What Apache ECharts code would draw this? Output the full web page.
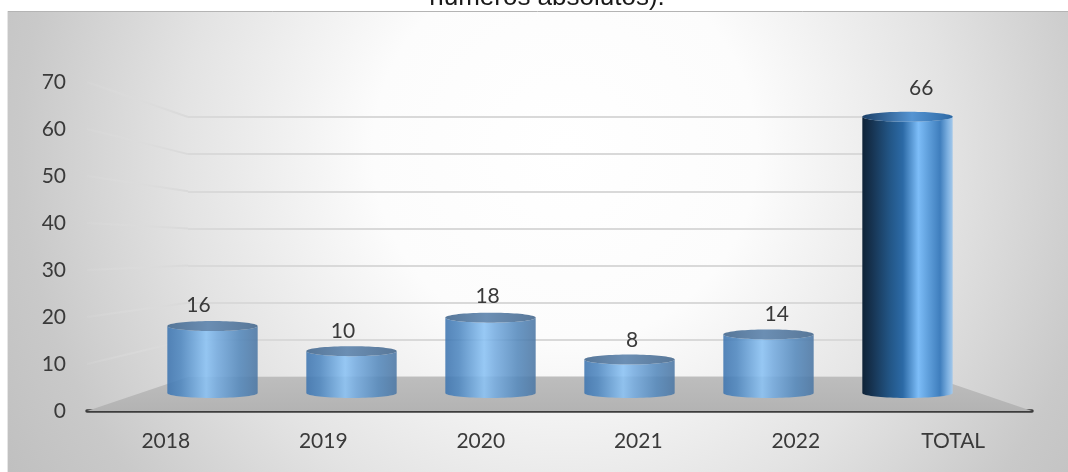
<!DOCTYPE html>
<html>
<head>
<meta charset="utf-8">
<script src="https://cdn.jsdelivr.net/npm/echarts@6/dist/echarts.min.js"></script>
<style>html,body{margin:0;padding:0;background:#fff;}#c{width:1068px;height:472px;}</style>
</head>
<body>
<div id="c"></div>
<script>
// ---- data ----
const categories = ['2018', '2019', '2020', '2021', '2022', 'TOTAL'];
const values = [16, 10, 18, 8, 14, 66];
const yMin = 0, yMax = 70, yStep = 10;
const titleText = 'números absolutos).';

// ---- layout constants ----
const FONT = 'Lato, "Open Sans", "Liberation Sans", sans-serif';
const LABEL_LIFT = 5.5;   // value units above the cylinder top
const LABEL_DEPTH = 0.3;  // between mid plane (0) and front plane (1)

const chart = echarts.init(document.getElementById('c'), null, {renderer: 'canvas'});

const valueAxis = (g, extra) => Object.assign({
  gridIndex: g, type: 'value', min: yMin, max: yMax, interval: yStep
}, extra);

chart.setOption({
  backgroundColor: '#ffffff',
  animation: false,
  grid: [
    {left: 87, right: 36, top: 82, bottom: 61},   // front plane
    {left: 188, right: 136, top: 117, bottom: 95}, // back wall
    {left: 143, right: 91, top: 100, bottom: 79}   // cylinder plane
  ],
  xAxis: [
    {gridIndex: 0, type: 'category', data: categories,
     axisLine: {lineStyle: {color: '#3d3d3d', width: 3.5, cap: 'round'}},
     axisTick: {show: false},
     axisLabel: {interval: 0, color: '#3a3a3a', fontSize: 21, fontFamily: FONT, margin: 20}},
    {gridIndex: 1, type: 'category', data: categories, show: false},
    {gridIndex: 2, type: 'category', data: categories, show: false}
  ],
  yAxis: [
    valueAxis(0, {axisLine: {show: false}, axisTick: {show: false}, splitLine: {show: false},
      axisLabel: {color: '#3a3a3a', fontSize: 21, fontFamily: FONT, margin: 21}}),
    valueAxis(1, {axisLine: {show: false}, axisTick: {show: false}, axisLabel: {show: false},
      splitLine: {show: true, lineStyle: {color: '#d9d9d9', width: 2}}}),
    valueAxis(2, {show: false})
  ]
});

const px = (g, cat, v) => chart.convertToPixel({gridIndex: g}, [cat, v]);
const edges = (g) => {
  const c0 = px(g, categories[0], 0)[0];
  const c1 = px(g, categories[1], 0)[0];
  const cN = px(g, categories[categories.length - 1], 0)[0];
  const band = c1 - c0;
  return [c0 - band / 2, cN + band / 2];
};
const [L0, R0] = edges(0);
const [L1, R1] = edges(1);

const graphics = [];
graphics.push({
  type: 'rect', z: -10, silent: true,
  shape: {x: 7, y: 11, width: 1061, height: 461},
  style: {fill: new echarts.graphic.RadialGradient(565, 150, 640, [
    {offset: 0, color: '#ffffff'},
    {offset: 0.3, color: '#fcfcfc'},
    {offset: 0.6, color: '#e3e3e3'},
    {offset: 0.85, color: '#c9c9c9'},
    {offset: 1, color: '#c0c0c0'}
  ], true)}
});
graphics.push({type: 'line', z: -5, shape: {x1: 7, y1: 11.5, x2: 1068, y2: 11.5}, style: {stroke: '#b4b4b4', lineWidth: 1}});
graphics.push({type: 'line', z: -5, shape: {x1: 7.5, y1: 11, x2: 7.5, y2: 472}, style: {stroke: '#e6e6e6', lineWidth: 1}});
graphics.push({
  type: 'text', z: 5,
  style: {text: titleText, x: 547, y: -2, align: 'center', verticalAlign: 'middle',
          fill: '#1a1a1a', font: '26px "Liberation Sans", Arial, sans-serif'}
});
const f0 = px(0, categories[0], 0)[1];
const b0 = px(1, categories[0], 0)[1];
graphics.push({
  type: 'polygon', z: 1, silent: true,
  shape: {points: [[L0, f0], [R0, f0], [R1, b0], [L1, b0]]},
  style: {fill: new echarts.graphic.LinearGradient(0, 0, 0, 1, [
    {offset: 0, color: '#bdbdbd'}, {offset: 1, color: '#b3b3b3'}])}
});
for (let v = yMin + yStep; v <= yMax; v += yStep) {
  const yf = px(0, categories[0], v)[1];
  const yb = px(1, categories[0], v)[1];
  graphics.push({
    type: 'line', z: 1, silent: true,
    shape: {x1: L0, y1: yf, x2: L1, y2: yb},
    style: {lineWidth: 2, stroke: new echarts.graphic.LinearGradient(0, 0, 1, 0, [
      {offset: 0, color: 'rgba(222,222,222,0.15)'}, {offset: 1, color: 'rgba(217,217,217,1)'}])}
  });
}

const labelPos = categories.map((c, i) => {
  const v = values[i] + LABEL_LIFT;
  const a = px(2, c, v), b = px(0, c, v);
  return [a[0] + (b[0] - a[0]) * LABEL_DEPTH, a[1] + (b[1] - a[1]) * LABEL_DEPTH];
});

const smallBody = {type: 'linear', x: 0, y: 0, x2: 1, y2: 0, colorStops: [
  {offset: 0, color: 'rgba(62,117,176,0.88)'},
  {offset: 0.15, color: 'rgba(78,135,192,0.88)'},
  {offset: 0.43, color: 'rgba(138,194,244,0.88)'},
  {offset: 0.55, color: 'rgba(118,172,224,0.88)'},
  {offset: 0.8, color: 'rgba(85,137,188,0.88)'},
  {offset: 1, color: 'rgba(76,119,164,0.88)'}]};
const smallTop = {type: 'linear', x: 0, y: 0, x2: 1, y2: 0, colorStops: [
  {offset: 0, color: 'rgba(78,112,148,0.95)'},
  {offset: 0.45, color: 'rgba(100,137,176,0.95)'},
  {offset: 1, color: 'rgba(80,113,148,0.95)'}]};
const bigBody = {type: 'linear', x: 0, y: 0, x2: 1, y2: 0, colorStops: [
  {offset: 0, color: '#0f2337'},
  {offset: 0.1, color: '#16324f'},
  {offset: 0.3, color: '#225585'},
  {offset: 0.45, color: '#2c6aa6'},
  {offset: 0.62, color: '#7dbdf8'},
  {offset: 0.72, color: '#62a2de'},
  {offset: 0.86, color: '#3f7ebd'},
  {offset: 0.95, color: '#7fb2e2'},
  {offset: 1, color: '#a4c8ea'}]};
const bigTop = {type: 'linear', x: 0, y: 0, x2: 1, y2: 0, colorStops: [
  {offset: 0, color: '#1b4069'},
  {offset: 0.55, color: '#5594d2'},
  {offset: 1, color: '#2c68a4'}]};

function ellipsePts(cx, cy, rx, ry, a0, a1, n) {
  const pts = [];
  for (let k = 0; k <= n; k++) {
    const a = a0 + (a1 - a0) * k / n;
    pts.push([cx + rx * Math.cos(a), cy + ry * Math.sin(a)]);
  }
  return pts;
}

function renderItem(params, api) {
  const i = api.value(0), v = api.value(1);
  const base = api.coord([i, 0]);
  const top = api.coord([i, v]);
  const w = api.size([1, 0])[0] * 0.65;
  const rx = w / 2, ry = 5, cx = base[0];
  const yb = base[1], yt = top[1];
  const total = categories[i] === 'TOTAL';
  const body = [[cx - rx, yt], [cx - rx, yb]]
    .concat(ellipsePts(cx, yb, rx, ry, Math.PI, 0, 40))
    .concat([[cx + rx, yt]])
    .concat(ellipsePts(cx, yt, rx, ry, 0, Math.PI, 40));
  const cap = ellipsePts(cx, yt, rx, ry, 0, Math.PI * 2, 80);
  return {
    type: 'group',
    children: [
      {type: 'polygon', shape: {points: body}, style: {fill: total ? bigBody : smallBody}},
      {type: 'polygon', shape: {points: cap}, style: {fill: total ? bigTop : smallTop}},
      {type: 'text', style: {text: String(values[i]), x: labelPos[i][0], y: labelPos[i][1],
        align: 'center', verticalAlign: 'middle', fill: '#3a3a3a',
        font: '21px ' + FONT}}
    ]
  };
}

chart.setOption({
  graphic: graphics,
  series: [{
    type: 'custom', xAxisIndex: 2, yAxisIndex: 2, z: 5,
    renderItem: renderItem,
    data: categories.map((c, i) => [i, values[i]])
  }]
});
</script>
</body>
</html>
